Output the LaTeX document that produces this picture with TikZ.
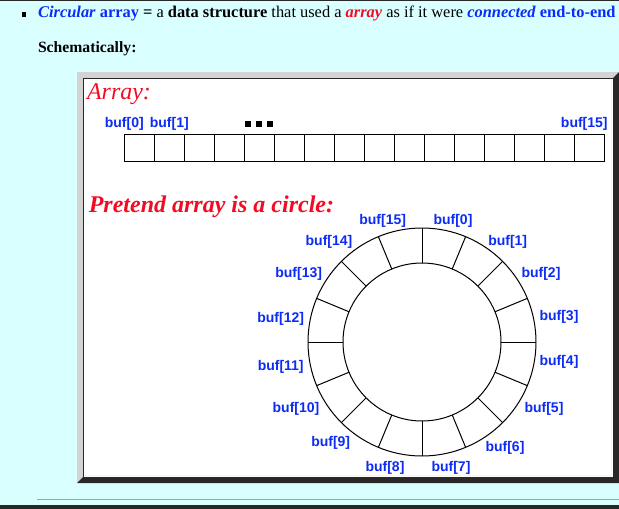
\documentclass[tikz,border=0pt]{standalone}
\usepackage{fontspec}
\setmainfont{Liberation Serif}
\newfontfamily\buffont{Liberation Sans}
\usetikzlibrary{positioning,calc}
\definecolor{pagebg}{RGB}{218,255,255}
\definecolor{bevellight}{RGB}{211,211,211}
\definecolor{beveldark}{RGB}{40,40,40}
\definecolor{linkblue}{RGB}{12,44,245}
\definecolor{hotred}{RGB}{245,10,35}
\definecolor{rulegray}{RGB}{165,165,165}
\begin{document}
\begin{tikzpicture}[x=1pt,y=1pt,line width=1pt,
		cell/.style={draw=black,minimum width=30pt,minimum height=27pt,inner sep=0pt,outer sep=0pt},
		buf/.style={text=linkblue,inner sep=1pt,font=\buffont\bfseries\fontsize{14}{15}\selectfont},
		dot/.style={fill=black,minimum size=6pt,inner sep=0pt},
		heading/.style={text=hotred,anchor=base west,inner sep=0pt,font=\fontsize{24}{26}\selectfont\itshape}]
		\useasboundingbox (0,0) rectangle (619,-509);
		\fill[pagebg] (0,0) rectangle (619,-509);
		\draw[beveldark] (0,-0.5) -- (619,-0.5);
		
		% page text
		\fill[black] (21.5,-12.2) rectangle (26.3,-17);
		\node[anchor=base west,inner sep=0pt,font=\fontsize{16.4}{18}\selectfont] (intro) at (37.7,-17.5)
			{\textcolor{linkblue}{\textbf{\textit{Circular} array}} \textbf{=} a \textbf{data structure} that used a \textcolor{hotred}{\textbf{\textit{array}}} as if it were \textcolor{linkblue}{\textbf{\textit{connected} end-to-end}}};
		\node[anchor=base west,inner sep=0pt,font=\fontsize{15.7}{18}\selectfont\bfseries] (schem) at (37.5,-52) {Schematically:};
		
		% framed panel
		\fill[bevellight] (77,-72) rectangle (619,-483);
		\fill[beveldark] (77,-483) -- (619,-483) -- (619,-72) -- (613,-78) -- (613,-477) -- (83,-477) -- cycle;
		\fill[white] (83,-78) rectangle (613,-477);
		\draw[pagebg,line width=1.5pt] (84,-475.5) -| (611.5,-79);
		\draw[beveldark] (83.5,-477) |- (613,-78.5);
		\draw[rulegray,line width=1.3pt] (37,-499.3) -- (619,-499.3);
		\fill[beveldark] (0,-505) rectangle (619,-509);
		
		\begin{scope}
		\clip (84,-79) rectangle (611,-475);
		\node[heading] (title1) at (86.5,-99.3) {Array:};
		\node[heading,font=\fontsize{24}{26}\selectfont\bfseries\itshape] (title2) at (88.3,-212.7) {Pretend array is a circle:};
		
		% the array
		\node[cell] (cell0) at (139.3,-147.8) {};
		\foreach \i [count=\j from 0] in {1,...,15}
			\node[cell,right=0pt of cell\j] (cell\i) {};
		\node[buf,anchor=south] (top0) at ([yshift=2pt]cell0.north west) {buf[0]};
		\node[buf,anchor=south] (top1) at ([yshift=2pt]cell1.north) {buf[1]};
		\node[buf,anchor=south] (top15) at ([xshift=-5pt,yshift=2pt]cell15.north) {buf[15]};
		\foreach \k/\dx in {a/-11,b/0,c/11}
			\node[dot] (dot\k) at ([xshift=\dx pt,yshift=10.5pt]cell4.north) {};
		
		% the ring
		\coordinate (c) at (422,-342);
		\draw (c) circle (114) (c) circle (79);
		\foreach \a in {0,22.5,...,337.5}
			\draw ($(c)+(\a:79)$) -- ($(c)+(\a:114)$);
		\foreach \i/\dx/\dy in {0/31/121.3, 1/85.7/100.3, 2/119/68, 3/137/25.3,
				4/137/-19.7, 5/122/-67.3, 6/83/-106.3, 7/29/-126.3,
				8/-37/-126.3, 9/-91.3/-100.7, 10/-126/-67.3, 11/-141.3/-24.7,
				12/-141.3/23, 13/-123.3/68, 14/-93/100.3, 15/-39.3/121.3}
			\node[buf] (lbl\i) at ($(c)+(\dx,\dy)$) {buf[\i]};
		\end{scope}
\end{tikzpicture}
\end{document}
